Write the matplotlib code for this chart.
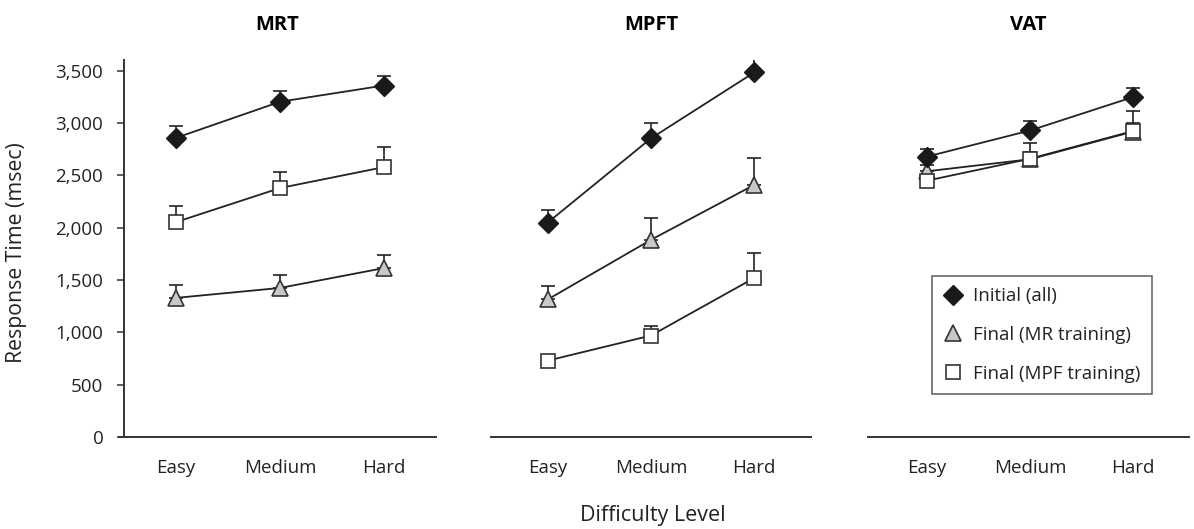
import numpy as np
import matplotlib.pyplot as plt
from matplotlib.lines import Line2D

plt.rcParams['font.family'] = ['Open Sans', 'DejaVu Sans']

levels = ['Easy', 'Medium', 'Hard']
tasks = ['MRT', 'MPFT', 'VAT']
series_names = ['Initial (all)', 'Final (MR training)', 'Final (MPF training)']

# mean response times (msec) and upper error bars
mrt_initial = [2860, 3205, 3360]
mrt_initial_err = [115, 100, 95]
mrt_final_mr = [1330, 1425, 1615]
mrt_final_mr_err = [125, 125, 125]
mrt_final_mpf = [2055, 2380, 2580]
mrt_final_mpf_err = [155, 155, 190]

mpft_initial = [2050, 2855, 3485]
mpft_initial_err = [120, 150, 175]
mpft_final_mr = [1315, 1885, 2410]
mpft_final_mr_err = [130, 205, 255]
mpft_final_mpf = [730, 970, 1520]
mpft_final_mpf_err = [40, 95, 240]

vat_initial = [2680, 2930, 3250]
vat_initial_err = [70, 90, 85]
vat_final_mr = [2540, 2655, 2920]
vat_final_mr_err = [60, 70, 80]
vat_final_mpf = [2450, 2660, 2925]
vat_final_mpf_err = [50, 150, 190]

panel_data = [
    (mrt_initial, mrt_initial_err, mrt_final_mr, mrt_final_mr_err, mrt_final_mpf, mrt_final_mpf_err),
    (mpft_initial, mpft_initial_err, mpft_final_mr, mpft_final_mr_err, mpft_final_mpf, mpft_final_mpf_err),
    (vat_initial, vat_initial_err, vat_final_mr, vat_final_mr_err, vat_final_mpf, vat_final_mpf_err),
]

line_col = '#222222'
txt_col = '#222222'
styles = [
    dict(marker='D', ms=10, mfc='#1a1a1a', mec='#1a1a1a'),
    dict(marker='^', ms=12, mfc='#c8c8c8', mec='#333333', mew=1.2),
    dict(marker='s', ms=10.5, mfc='white', mec='#333333', mew=1.2),
]

fig = plt.figure(figsize=(11.94, 5.29), dpi=100)
W, H = 1194, 529
bottom = (H - 437) / H
height = 376.6 / H
boxes = [(119, 436), (491, 811), (868, 1189)]
xlims = [(-0.55, 2.5), (-0.55, 2.55), (-0.57, 2.54)]
fs = 13.5

x = np.arange(len(levels))
axes = []
for i, (l, r) in enumerate(boxes):
    ax = fig.add_axes([l / W, bottom, (r - l) / W, height])
    axes.append(ax)
    ini, ini_e, mr, mr_e, mpf, mpf_e = panel_data[i]
    # order: triangle, square, diamond on top
    for vals, errs, st, z in [(mr, mr_e, styles[1], 3), (mpf, mpf_e, styles[2], 4), (ini, ini_e, styles[0], 5)]:
        ax.errorbar(x, vals, yerr=[np.zeros(3), errs], fmt='none', ecolor=line_col,
                    elinewidth=1.2, capsize=5, capthick=1.2, zorder=z)
        ax.plot(x, vals, color=line_col, lw=1.3, zorder=z, **st)

    ax.set_xlim(*xlims[i])
    ax.set_ylim(0, 3600)
    ax.set_xticks(x)
    ax.set_xticklabels(levels, fontsize=fs, color=txt_col)
    ax.tick_params(axis='x', length=0, pad=16)
    for s in ['top', 'right']:
        ax.spines[s].set_visible(False)
    ax.spines['bottom'].set_linewidth(1.4)
    ax.spines['bottom'].set_color('#333333')
    ax.set_title(tasks[i], fontsize=14.5, fontweight='bold', pad=22)
    if i == 0:
        ax.spines['left'].set_position(('data', -0.5))
        ax.spines['left'].set_linewidth(1.4)
        ax.spines['left'].set_color('#333333')
        ax.set_yticks(np.arange(0, 3501, 500))
        ax.set_yticklabels([f'{v:,}' for v in range(0, 3501, 500)], fontsize=fs, color=txt_col)
        ax.tick_params(axis='y', length=5, width=1.1, color='#333333', pad=10)
    else:
        ax.spines['left'].set_visible(False)
        ax.set_yticks([])

handles = [Line2D([], [], linestyle='none', **st) for st in styles]
leg = axes[2].legend(handles, series_names, loc='upper left', bbox_to_anchor=(0.199, 0.4275),
                     fontsize=13.5, frameon=True, fancybox=False, edgecolor='#333333',
                     handlelength=1.0, handletextpad=0.6, labelspacing=1.1, borderpad=0.6,
                     borderaxespad=0)
leg.get_frame().set_linewidth(1.1)
for t in leg.get_texts():
    t.set_color(txt_col)

fig.text(17 / W, 1 - 253 / H, 'Response Time (msec)', rotation=90, ha='center', va='center',
         fontsize=15.3, color=txt_col)
fig.text(653 / W, 1 - 516 / H, 'Difficulty Level', ha='center', va='center', fontsize=15.5,
         color=txt_col)

fig.savefig('out.png', dpi=100)
